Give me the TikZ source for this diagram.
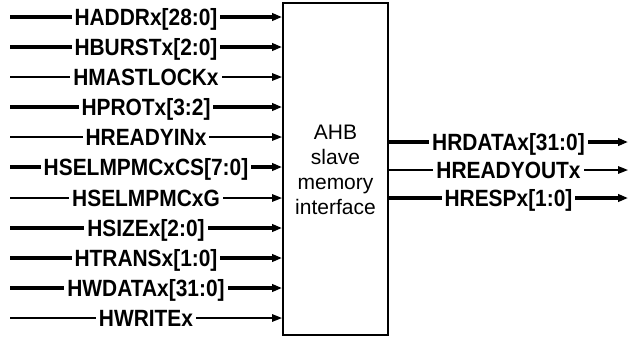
\documentclass[tikz,border=0pt]{standalone}
\usepackage{fontspec}
\usepackage{graphicx}
\setmainfont{Liberation Sans}
\usetikzlibrary{arrows.meta}
\newcommand\sqz[1]{\scalebox{0.89}[1]{#1}}
\tikzset{
  sig/.style={line width=1.6pt, -{Triangle[length=10pt,width=7.5pt]}},
  bus/.style={sig, line width=3.8pt},
  lab/.style={fill=white, font=\bfseries\fontsize{23.5}{23.5}\selectfont, inner xsep=3pt, inner ysep=1pt, text height=17pt, text depth=0pt, pos=0.5},
  blk/.style={draw, line width=2pt, minimum width=105pt, minimum height=332pt, inner sep=0pt},
  blktext/.style={align=center, font=\fontsize{21}{25}\selectfont}
}
\begin{document}
\begin{tikzpicture}[x=1pt,y=-1pt]
\useasboundingbox (0,0) rectangle (632,338);
\node[blk] (box) at (335.5,169) {};
\node[blktext] (bt) at (335.5,170) {AHB\\slave\\memory\\interface};
% left inputs
\coordinate (s1) at (10,17);
\coordinate (s2) at (10,47);
\coordinate (s3) at (10,77);
\coordinate (s4) at (10,107);
\coordinate (s5) at (10,137);
\coordinate (s6) at (10,167);
\coordinate (s7) at (10,198);
\coordinate (s8) at (10,228);
\coordinate (s9) at (10,258);
\coordinate (s10) at (10,288);
\coordinate (s11) at (10,318);
\draw[bus] (s1) -- node[lab] (l1) {\sqz{HADDRx[28:0]}} (box.west |- s1);
\draw[bus] (s2) -- node[lab] (l2) {\sqz{HBURSTx[2:0]}} (box.west |- s2);
\draw[sig] (s3) -- node[lab] (l3) {\sqz{HMASTLOCKx}} (box.west |- s3);
\draw[bus] (s4) -- node[lab] (l4) {\sqz{HPROTx[3:2]}} (box.west |- s4);
\draw[sig] (s5) -- node[lab] (l5) {\sqz{HREADYINx}} (box.west |- s5);
\draw[bus] (s6) -- node[lab] (l6) {\sqz{HSELMPMCxCS[7:0]}} (box.west |- s6);
\draw[sig] (s7) -- node[lab] (l7) {\sqz{HSELMPMCxG}} (box.west |- s7);
\draw[bus] (s8) -- node[lab] (l8) {\sqz{HSIZEx[2:0]}} (box.west |- s8);
\draw[bus] (s9) -- node[lab] (l9) {\sqz{HTRANSx[1:0]}} (box.west |- s9);
\draw[bus] (s10) -- node[lab] (l10) {\sqz{HWDATAx[31:0]}} (box.west |- s10);
\draw[sig] (s11) -- node[lab] (l11) {\sqz{HWRITEx}} (box.west |- s11);
% right outputs
\coordinate (e1) at (628,142);
\coordinate (e2) at (628,170);
\coordinate (e3) at (628,198);
\draw[bus] (box.east |- e1) -- node[lab] (r1) {\sqz{HRDATAx[31:0]}} (e1);
\draw[sig] (box.east |- e2) -- node[lab] (r2) {\sqz{HREADYOUTx}} (e2);
\draw[bus] (box.east |- e3) -- node[lab] (r3) {\sqz{HRESPx[1:0]}} (e3);
\end{tikzpicture}
\end{document}
